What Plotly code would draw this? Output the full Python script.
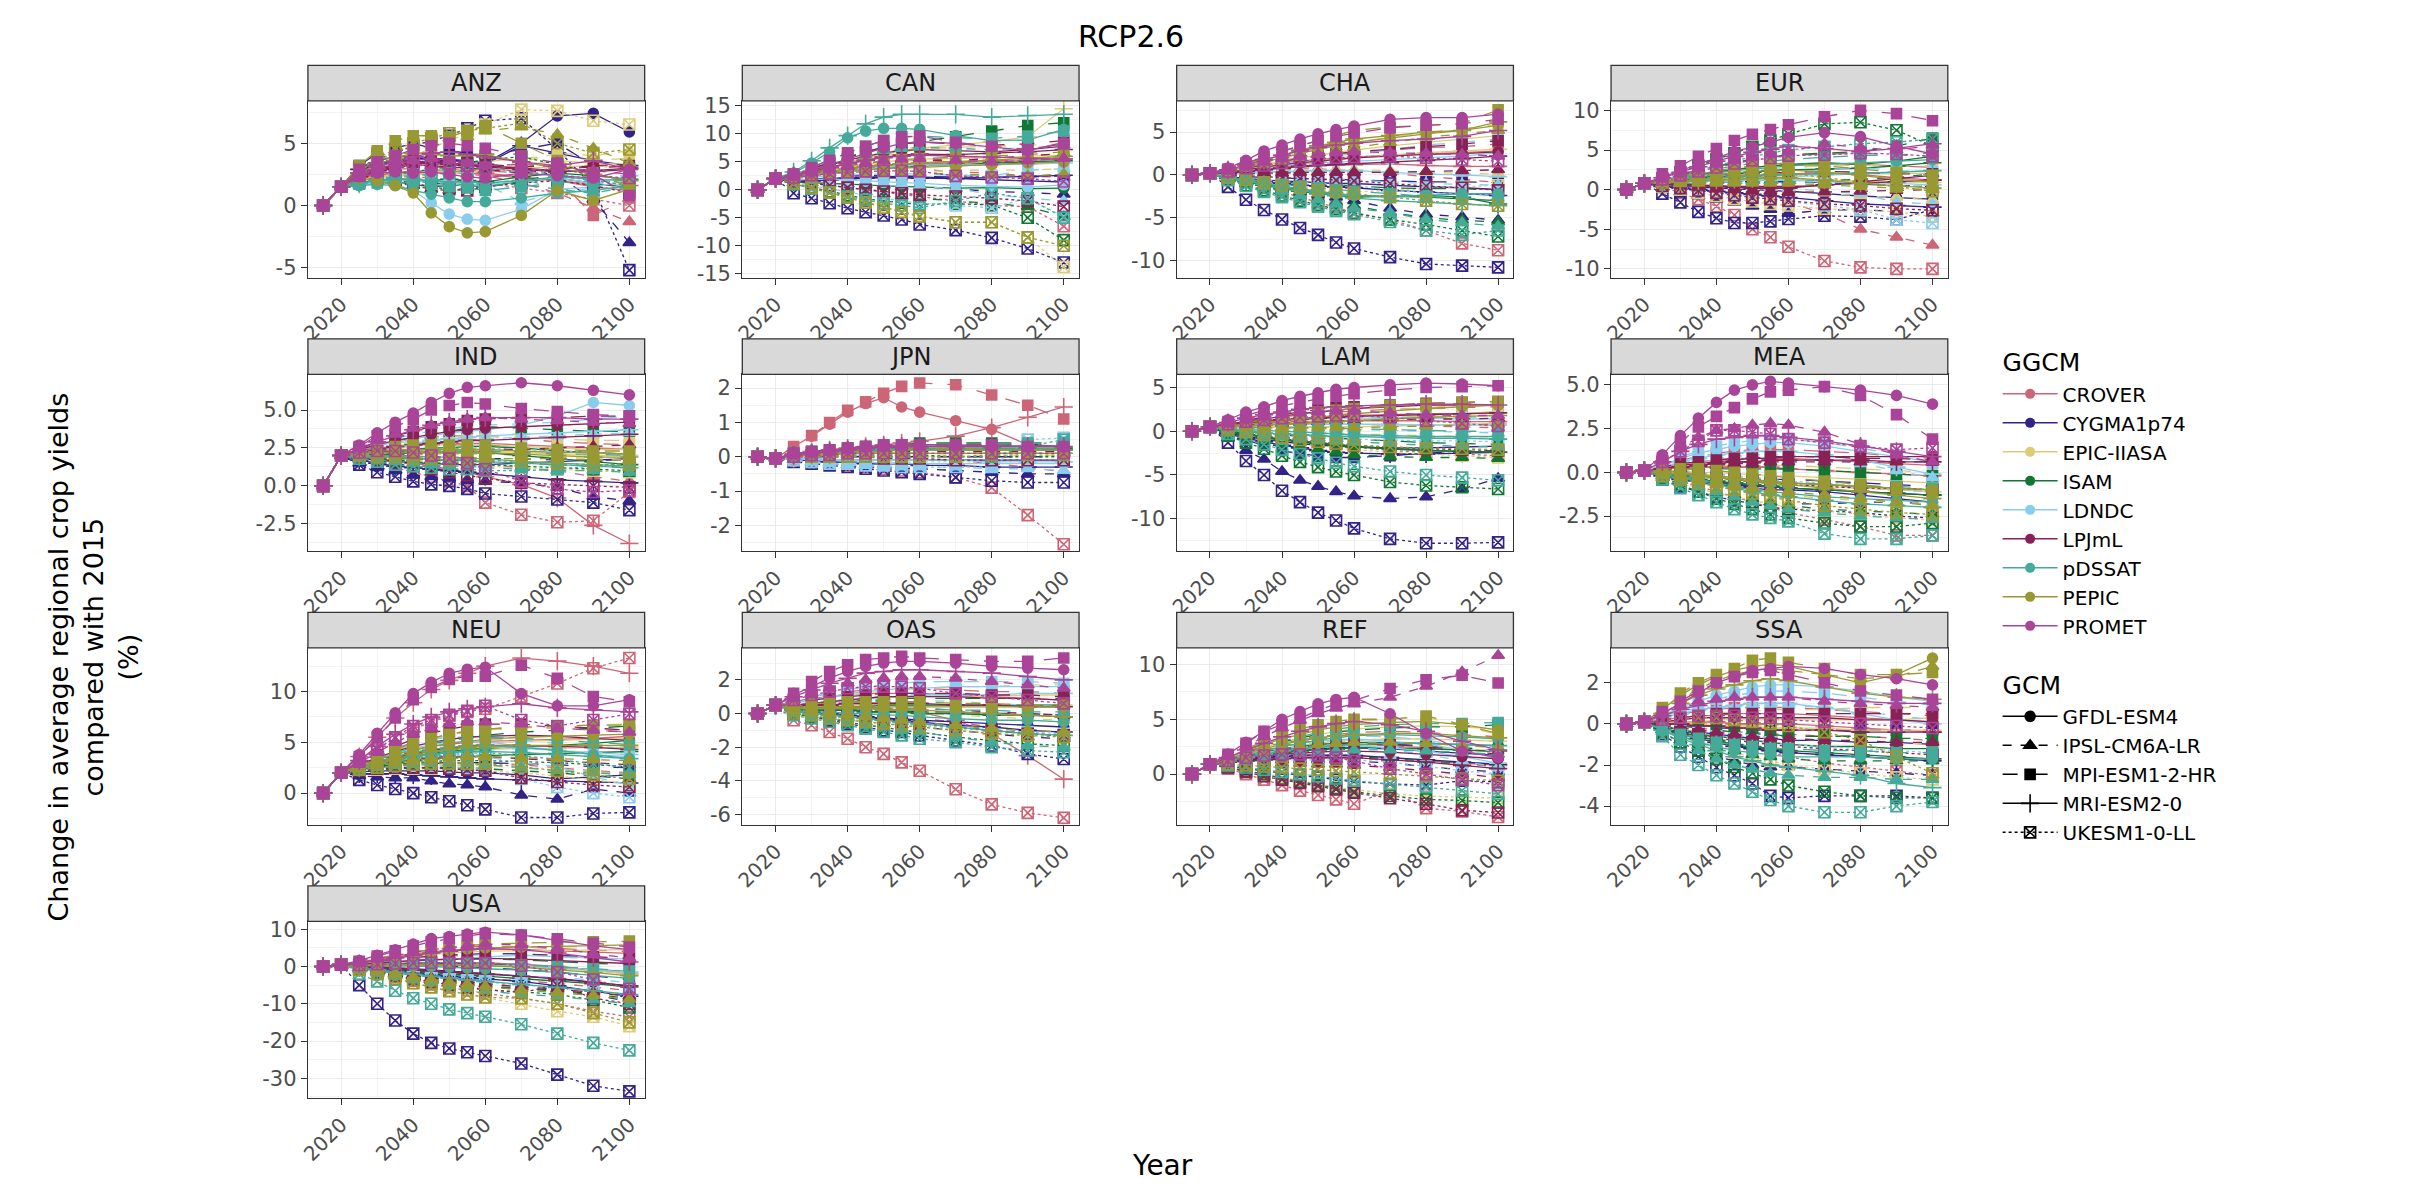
import plotly.graph_objects as go

YEARS = [2015, 2020, 2025, 2030, 2035, 2040, 2045, 2050, 2055, 2060, 2070, 2080, 2090, 2100]
GGCMS = ["CROVER", "CYGMA1p74", "EPIC-IIASA", "ISAM", "LDNDC", "LPJmL", "pDSSAT", "PEPIC", "PROMET"]
GCMS = ["GFDL-ESM4", "IPSL-CM6A-LR", "MPI-ESM1-2-HR", "MRI-ESM2-0", "UKESM1-0-LL"]
REGIONS = ["ANZ", "CAN", "CHA", "EUR", "IND", "JPN", "LAM", "MEA", "NEU", "OAS", "REF", "SSA", "USA"]

# values at 2015 and 2020 (shared by every model in a region)
START = {"ANZ": [0, 1.5], "CAN": [0, 2.0], "CHA": [0, 0.2], "EUR": [0, 0.8], "IND": [0, 2.0],
         "JPN": [0, -0.05], "LAM": [0, 0.5], "MEA": [0, 0.1], "NEU": [0, 2.0], "OAS": [0, 0.5],
         "REF": [0, 0.9], "SSA": [0, 0.1], "USA": [0, 0.5]}

# per GGCM: [GFDL-ESM4, IPSL-CM6A-LR, MPI-ESM1-2-HR, MRI-ESM2-0, UKESM1-0-LL], values 2025..2100
ANZ = {
 "CROVER": [[2.2,2.5,2.6,2.8,2.7,2.8,2.6,2.5,2.2,2.0,1.5,1.2],[2.0,2.3,2.5,2.4,2.6,2.7,2.5,2.4,1.8,1.0,-0.2,-1.3],[2.3,2.7,2.9,3.0,3.1,3.0,2.9,2.8,2.6,2.2,-0.8,0.6],[2.1,2.4,2.6,2.7,2.8,2.9,2.8,2.6,2.3,2.0,1.7,1.6],[1.9,2.2,2.3,2.3,2.2,2.0,1.9,1.8,1.4,1.0,0.5,0.0]],
 "CYGMA1p74": [[3.0,3.6,3.9,4.0,3.8,3.7,3.6,3.4,5.0,7.2,7.4,5.9],[2.8,3.3,3.5,3.6,3.4,3.3,3.2,3.1,3.0,2.4,0.5,-3.0],[3.2,4.2,4.6,5.0,4.6,4.4,4.2,4.0,4.5,5.0,3.2,3.0],[2.9,3.4,3.6,3.8,3.7,3.6,3.5,3.3,4.8,4.2,3.6,3.2],[3.0,3.7,4.2,4.8,5.2,5.6,6.2,6.8,7.0,4.5,1.5,-5.2]],
 "EPIC-IIASA": [[2.0,2.3,2.5,2.6,2.7,2.8,2.9,3.0,3.2,3.6,3.4,3.3],[1.8,2.1,2.3,2.4,2.5,2.6,2.8,3.0,3.5,4.2,4.0,4.4],[2.1,2.5,2.8,3.0,3.1,3.2,3.3,3.5,3.8,4.0,3.6,3.8],[1.9,2.2,2.4,2.5,2.6,2.6,2.7,2.8,3.0,3.1,3.2,3.0],[2.2,2.8,3.4,4.0,4.6,5.2,5.8,6.5,7.7,7.6,6.8,6.5]],
 "ISAM": [[1.8,2.0,1.9,1.7,1.5,1.6,1.7,1.6,1.9,2.2,1.8,1.4],[1.7,1.9,1.8,1.6,1.3,1.2,1.4,1.5,1.8,2.4,2.0,1.8],[1.9,2.1,2.0,1.9,1.8,1.7,1.6,1.5,2.0,2.5,2.2,2.0],[1.8,2.0,2.1,2.0,2.0,2.1,2.0,1.9,2.3,2.6,2.4,2.1],[1.8,2.2,2.4,2.7,2.9,3.1,3.4,3.7,3.9,3.3,2.6,1.9]],
 "LDNDC": [[1.6,1.8,1.7,1.2,0.2,-0.7,-1.1,-1.2,-0.3,1.3,1.5,2.0],[1.7,1.9,2.0,1.9,1.8,1.9,1.8,1.7,0.3,1.0,1.4,2.2],[1.8,2.0,2.1,2.2,2.0,2.0,1.9,1.8,2.1,1.4,0.9,1.9],[1.7,1.9,2.0,2.0,1.9,1.8,1.7,1.6,2.0,2.2,1.8,2.4],[1.9,2.2,2.4,2.6,2.8,3.0,3.1,3.2,2.8,2.5,2.2,1.5]],
 "LPJmL": [[2.4,2.9,3.2,3.5,3.5,3.4,3.3,3.2,3.0,2.8,2.7,2.9],[2.2,2.7,3.0,3.3,3.2,3.1,3.0,2.9,2.6,2.9,3.2,3.3],[2.5,3.0,3.4,3.7,3.6,3.5,3.4,3.3,3.1,3.2,3.0,3.2],[2.3,2.8,3.1,3.4,3.4,3.3,3.2,3.1,2.9,2.7,2.8,3.0],[2.0,2.2,2.0,1.8,1.5,1.3,1.2,1.5,1.8,2.0,1.6,1.0]],
 "pDSSAT": [[1.6,1.7,1.6,1.2,0.9,0.6,0.3,0.3,0.6,1.0,1.2,1.6],[1.8,2.0,2.1,2.0,1.8,1.7,1.7,1.6,1.7,1.3,1.0,1.5],[1.7,1.8,1.9,1.9,1.7,1.5,1.4,1.2,1.5,1.8,2.0,2.2],[1.8,2.0,2.1,2.1,2.0,1.9,1.9,1.8,2.0,2.3,2.1,2.0],[1.9,2.1,2.3,2.4,2.5,2.6,2.8,3.0,2.7,2.4,2.0,1.6]],
 "PEPIC": [[2.2,2.0,1.6,1.0,-0.6,-1.7,-2.2,-2.1,-0.8,1.2,0.4,1.3],[2.8,3.6,4.3,4.8,5.2,5.4,5.5,6.0,6.3,5.7,4.6,3.4],[3.2,4.4,5.2,5.6,5.6,5.5,6.0,6.4,5.0,3.6,2.6,1.5],[2.6,3.3,3.8,4.2,4.1,4.0,4.0,4.1,3.5,3.0,2.5,2.0],[2.9,3.8,4.5,5.0,5.4,5.8,6.0,6.2,6.6,5.0,4.2,4.5]],
 "PROMET": [[2.3,2.6,2.7,2.6,2.7,2.5,2.3,2.2,2.6,2.4,2.2,2.9],[2.5,3.0,3.3,3.6,3.8,3.6,3.4,3.2,3.3,3.1,2.8,2.5],[2.9,3.5,4.0,4.5,4.8,5.0,4.8,4.6,4.0,3.4,2.5,0.8],[2.6,3.1,3.5,3.9,4.2,4.3,4.1,3.9,3.5,3.2,3.6,2.9],[2.4,2.8,3.1,3.2,3.3,3.4,3.2,3.0,2.7,3.0,2.4,2.2]],
}
CAN = {
 "CROVER": [[2.5,3,3.5,4,4.3,4.5,4.6,4.5,4.3,4.5,4.6,4.8],[2.2,2.6,3,3.3,3.5,3.7,3.8,3.7,3.2,3,2.5,2.2],[2.6,3.2,3.8,4.3,4.8,5.2,5.4,5.3,5,5.2,5.4,5.8],[2.4,2.9,3.4,3.8,4.2,4.4,4.6,4.6,4.8,5,5.2,5.5],[1.5,1.2,0.8,0.4,0,-0.4,-0.8,-1.2,-2,-2.8,-3,-6.5]],
 "CYGMA1p74": [[1.5,1.8,2,2.2,2.3,2.4,2.4,2.3,2,1.8,1.6,1.4],[1.2,1.2,1.1,1,0.9,0.8,0.6,0.5,0.2,-0.3,-0.5,-0.8],[1.6,1.9,2.2,2.4,2.6,2.6,2.5,2.4,2.3,2.2,2.3,2.5],[1.4,1.6,1.8,2,2.1,2.2,2.2,2.1,2,2.2,2.4,2.6],[-0.6,-1.5,-2.4,-3.3,-4,-4.6,-5.3,-6.2,-7.2,-8.6,-10.5,-13]],
 "EPIC-IIASA": [[2.3,2.9,3.5,4,4.5,5,5.3,5.5,5.6,5.8,6,6.2],[2,2.3,2.6,2.8,3,3.1,3.2,3.2,3.4,3.6,3.5,3.8],[2.6,3.4,4.2,5,5.8,6.5,7,7.3,7.6,7.8,8,8.2],[2.5,3.2,4,4.8,5.6,6.3,7,7.5,8,8.6,9.5,14.5],[1.2,0.5,-0.3,-1.2,-2.2,-3,-3.8,-4.6,-5.8,-5.8,-8.5,-13.8]],
 "ISAM": [[1.4,1.3,1.2,1,0.9,0.7,0.6,0.5,0.3,0.4,0.2,0.3],[1.2,0.8,0.4,0,-0.4,-0.8,-1.2,-1.5,-2,-2.4,-3,-4.8],[2.8,3.8,4.8,5.8,6.8,7.6,8.2,8.6,9.5,10.5,11.5,12],[2.2,2.6,3,3.4,3.7,4,4.2,4.3,4.5,4.8,5,5.2],[1.1,0.4,-0.3,-1,-1.6,-2,-2.3,-2.6,-2.5,-2.7,-5,-9]],
 "LDNDC": [[1.8,1.9,1.9,1.8,1.6,1.4,1.3,1.2,0.8,0.6,0.5,0.9],[1.6,1.6,1.5,1.4,1.2,1,0.8,0.6,0.2,-0.8,-1.5,-2],[2,2.3,2.5,2.7,2.8,2.9,2.9,2.8,2.6,2.5,3.5,3.8],[2.2,2.6,3,3.4,3.8,4.1,4.3,4.4,4.4,4.5,4.6,4.8],[1.3,0.8,0.2,-0.4,-1,-1.5,-2,-2.4,-2.8,-3.2,-1.5,-4.8]],
 "LPJmL": [[2.6,3.5,4.4,5.3,6,6.6,7,7.2,7,6.8,7.2,7.8],[2.4,3,3.6,4.2,4.6,5,5.2,5.3,5.2,5.6,6,6.5],[2.8,3.8,4.8,5.8,6.8,7.6,8.2,8.5,8.2,8,8.2,8.8],[2.5,3.3,4,4.7,5.3,5.8,6.2,6.4,6.3,6.5,6.8,7.2],[1.5,1.2,0.8,0.4,0,-0.3,-0.6,-0.9,-1.2,-1.5,-2,-3]],
 "pDSSAT": [[3,4.8,6.8,9.3,10.5,11,11,10.8,9.7,8.8,8.9,10.8],[2.6,3.6,4.6,5.6,6.4,7,7.4,7.6,7.4,7.2,7.4,8],[2.8,4,5.3,6.6,7.8,8.8,9.4,9.6,9.3,9.2,9.6,10.5],[3.2,5.2,7.5,9.7,11.8,13,13.5,13.5,13.5,13,13.3,13.5],[1,0.2,-0.5,-1.2,-1.8,-2.4,-2.8,-3.2,-2,-0.6,-1.5,-5]],
 "PEPIC": [[2.2,2.6,3,3.3,3.6,3.8,3.9,4,4.2,4.5,4.8,5],[2,2.3,2.5,2.7,2.8,2.9,3,3,2.8,2.6,2.5,2.8],[2.5,3.1,3.7,4.2,4.7,5.1,5.4,5.6,5.8,6,6.3,6.8],[2.3,2.8,3.3,3.7,4.1,4.4,4.6,4.8,5,5.3,5.6,6],[1.2,0.4,-0.5,-1.4,-2.3,-3.2,-4,-4.8,-5.8,-5.8,-8.5,-10]],
 "PROMET": [[2.6,3.5,4.5,5.5,6.5,7.5,8.3,8.6,8.3,7.7,7,8.5],[2.4,3,3.6,4.2,4.8,5.2,5.5,5.6,5.3,5,5.2,5.6],[2.8,4,5.3,6.6,7.8,8.8,9.5,9.6,8.5,7.8,7.2,8.2],[2.5,3.2,4,4.7,5.3,5.8,6,6.2,6,5.8,5.6,5.5],[2.2,2.6,2.9,3.1,3.3,3.4,3.4,3.3,2.5,2.2,2,1.5]],
}
CHA = {
 "CROVER": [[0.5,0.8,1.1,1.4,1.6,1.8,2,2.1,2.3,2.5,2.6,2.8],[0.3,0.5,0.6,0.6,0.7,0.7,0.6,0.5,0.2,-0.2,-0.5,-0.9],[0.6,1,1.4,1.7,2,2.2,2.4,2.6,2.9,3.2,3.3,3.6],[0.4,0.6,0.8,0.9,1,1.1,1.2,1.2,1.3,1.1,1,1],[-0.3,-0.8,-1.4,-2,-2.6,-3.2,-3.8,-4.4,-5.2,-6.5,-8,-8.8]],
 "CYGMA1p74": [[-0.2,-0.4,-0.6,-0.7,-0.8,-0.9,-1,-1,-1.2,-1.4,-1.5,-1.7],[-0.5,-0.9,-1.3,-1.7,-2,-2.3,-2.6,-3,-3.9,-4.6,-4.9,-5.3],[-0.1,-0.2,-0.3,-0.4,-0.4,-0.5,-0.5,-0.6,-0.7,-0.8,-0.8,-0.9],[-0.3,-0.6,-0.8,-1,-1.2,-1.3,-1.4,-1.5,-1.8,-2,-2.2,-2.4],[-1.4,-2.9,-4.1,-5.2,-6.2,-7,-7.9,-8.6,-9.6,-10.4,-10.6,-10.8]],
 "EPIC-IIASA": [[0.4,0.8,1.2,1.6,2,2.3,2.6,2.9,3.4,3.8,4.2,4.6],[0.2,0.3,0.4,0.5,0.6,0.6,0.6,0.6,0.5,0.3,0.2,0.1],[0.5,1,1.5,2,2.5,3,3.4,3.8,4.4,5,5.4,5.9],[0.3,0.6,0.9,1.2,1.4,1.6,1.8,2,2.3,2.6,2.8,3],[-0.2,-0.5,-0.8,-1.1,-1.4,-1.6,-1.8,-2,-1.8,-1.6,-1.4,-1.2]],
 "ISAM": [[-0.3,-0.7,-1.1,-1.4,-1.7,-2,-2.2,-2.4,-2.5,-2.6,-2.8,-3],[-0.5,-1,-1.5,-2,-2.4,-2.8,-3.2,-3.6,-4.4,-5,-5.3,-5.5],[-0.2,-0.4,-0.6,-0.8,-1,-1.1,-1.2,-1.3,-1.5,-1.6,-1.6,-1.8],[-0.4,-0.8,-1.2,-1.6,-1.9,-2.2,-2.4,-2.6,-2.5,-2.4,-2.6,-3.4],[-0.6,-1.2,-1.8,-2.4,-3,-3.5,-4,-4.5,-5.2,-5.8,-6.5,-7.2]],
 "LDNDC": [[0.2,0.4,0.7,1,1.2,1.4,1.5,1.6,1.8,2,2.2,2.6],[0,-0.1,-0.2,-0.3,-0.4,-0.5,-0.5,-0.6,-0.8,-1,-1.1,-1.2],[0.3,0.6,0.9,1.3,1.6,1.9,2.2,2.5,3,3.5,3.8,4.2],[0.1,0.2,0.3,0.4,0.4,0.5,0.5,0.5,0.3,0.1,0,-0.2],[-0.2,-0.4,-0.6,-0.8,-0.9,-1,-1.1,-1.2,-1.8,-2.1,-2.2,-2.3]],
 "LPJmL": [[0.3,0.6,0.9,1.2,1.4,1.6,1.8,2,2.2,2.4,2.5,2.7],[0.1,0.1,0.2,0.2,0.3,0.3,0.3,0.3,0.3,0.4,0.5,0.6],[0.4,0.8,1.2,1.6,1.9,2.2,2.5,2.7,3,3.3,3.6,4],[0.2,0.4,0.6,0.8,1,1.1,1.2,1.3,1.5,1.7,1.9,2.2],[0,-0.1,-0.2,-0.3,-0.4,-0.5,-0.6,-0.7,-1,-1.3,-1.5,-1.8]],
 "pDSSAT": [[-0.3,-0.6,-1,-1.3,-1.6,-1.9,-2.2,-2.4,-2.6,-2.4,-2.2,-2.2],[-0.4,-0.9,-1.4,-1.9,-2.4,-2.9,-3.4,-3.9,-4.4,-5.2,-5.6,-6],[-0.2,-0.5,-0.8,-1.1,-1.3,-1.5,-1.7,-1.9,-2.2,-2.5,-2.7,-2.9],[-0.3,-0.7,-1.1,-1.5,-1.8,-2.1,-2.4,-2.7,-3,-3.2,-3.4,-3.6],[-0.6,-1.3,-2,-2.6,-3.2,-3.7,-4.2,-4.6,-5.5,-6.5,-7,-6.5]],
 "PEPIC": [[0.5,1,1.5,2,2.5,3,3.4,3.8,4.3,4.8,5.2,5.8],[0.4,0.8,1.2,1.6,2,2.4,2.8,3.2,3.8,4.4,4.8,5.2],[0.6,1.3,2,2.7,3.4,4,4.6,5.2,5.6,5.8,6,7.6],[0.5,1.1,1.7,2.3,2.9,3.4,3.8,4.2,4.6,5,5.2,6.2],[-0.3,-0.6,-0.9,-1.2,-1.5,-1.8,-2,-2.2,-2.6,-3,-3.4,-3.6]],
 "PROMET": [[0.8,1.7,2.8,3.5,4.2,4.8,5.3,5.7,6.5,6.7,6.7,7.1],[0.5,1,1.5,1.9,2.2,2.4,2.6,2.7,2.6,2.5,2.4,2.2],[0.7,1.4,2.1,2.8,3.4,4,4.5,4.9,5.5,5.8,6,6.5],[0.6,1.2,1.8,2.3,2.8,3.2,3.5,3.7,4,4.2,4.5,5.2],[0.4,0.8,1.1,1.4,1.6,1.8,2,2.1,2.2,2,1.8,1.6]],
}
EUR = {
 "CROVER": [[1.2,1.6,2,2.3,2.6,2.8,3,3.1,3.3,3.2,3,2.8],[0.8,0.6,0.3,0,-0.4,-0.8,-1.2,-1.6,-3,-5,-6,-7],[1.4,2,2.5,3,3.4,3.8,4.1,4.3,4.5,4.6,4.4,4.2],[1,1.2,1.4,1.6,1.7,1.8,1.9,2,2.1,1.9,1.5,1.2],[0.3,-0.4,-1.2,-2.1,-3.2,-5,-6,-7.2,-9,-9.8,-10,-10]],
 "CYGMA1p74": [[0.5,0.4,0.3,0.2,0.1,0,-0.1,-0.2,-0.5,-0.8,-1,-1.2],[0.2,-0.3,-0.8,-1.2,-1.6,-2.1,-2.5,-3,-2.6,-2.5,-2.8,-3],[0.6,0.8,0.9,1,1,1,1,1,0.9,0.7,0.5,0.4],[0.4,0.2,0,-0.2,-0.4,-0.6,-0.8,-1,-1.4,-1.8,-2,-2.2],[-0.5,-1.6,-2.8,-3.6,-4.2,-4.2,-4,-3.7,-3.3,-3.4,-3.8,-2.5]],
 "EPIC-IIASA": [[0.8,1,1.2,1.4,1.5,1.6,1.7,1.8,1.9,2,2,2.1],[0.6,0.5,0.4,0.3,0.2,0.1,0,-0.1,-0.4,-0.8,-1,-1.3],[1,1.3,1.6,1.9,2.2,2.4,2.6,2.8,3,3.1,3,3],[0.8,0.9,1,1.1,1.2,1.3,1.3,1.3,1.2,1.1,1,0.9],[0.4,0,-0.4,-0.8,-1.2,-1.5,-1.8,-2,-2.4,-2.6,-2.8,-3.4]],
 "ISAM": [[1,1.4,1.8,2.2,2.5,2.8,3,3.2,3.4,3.2,3.6,4.2],[0.7,0.8,0.9,1,1,1.1,1.1,1.1,1.2,1.3,1.5,2],[1.2,1.8,2.4,2.9,3.4,3.8,4.1,4.4,4.6,4.8,5.5,6.5],[0.9,1.2,1.5,1.8,2,2.2,2.4,2.5,2.6,2.7,3,3.4],[1.4,2.2,3,3.8,4.6,5.4,6.2,7,8.3,8.5,7.5,5.5]],
 "LDNDC": [[0.9,1,1.1,1.2,1.3,1.4,1.5,1.6,1.8,2,2.2,2.4],[0.7,0.6,0.5,0.4,0.4,0.3,0.3,0.2,-0.2,-0.5,-1.6,-1.8],[1.1,1.3,1.5,1.7,1.9,2,2.1,2.2,2.5,2.8,2.4,2.3],[0.8,0.9,1,1.1,1.1,1.2,1.2,1.2,1,0.9,0.8,0.6],[0.6,0.3,0,-0.3,-0.6,-0.9,-1.2,-1.5,-2,-2.5,-3.8,-4.2]],
 "LPJmL": [[0.8,0.7,0.6,0.5,0.4,0.4,0.4,0.4,0.5,1,1.4,1.8],[0.6,0.5,0.3,0.1,0,-0.1,-0.2,-0.3,-0.3,-0.2,-0.1,0],[1,1.2,1.4,1.6,1.8,2,2.1,2.2,2.3,2.2,2,2],[0.7,0.6,0.5,0.4,0.3,0.2,0.2,0.2,0.6,0.8,1,1.2],[0.5,0.2,-0.1,-0.4,-0.7,-1,-1.2,-1.4,-1.8,-2,-2.4,-2.6]],
 "pDSSAT": [[1,1.4,1.8,2.1,2.4,2.6,2.8,3,3.2,3.4,3.6,3.8],[0.8,0.9,1,1,1,1,1,1,0.8,0.6,0.5,0.4],[1.2,1.7,2.2,2.6,3,3.3,3.6,3.8,4.1,4.3,4.4,4.6],[0.9,1.1,1.3,1.5,1.6,1.7,1.8,1.9,2,2.1,2.2,2.4],[1.2,1.8,2.4,3,3.6,4.2,4.6,5,5.4,5.8,6,6.4]],
 "PEPIC": [[1,1.3,1.6,1.9,2.1,2.3,2.4,2.5,2.2,1.8,1.3,1],[0.8,0.8,0.8,0.8,0.8,0.8,0.8,0.8,0.6,0.4,0.2,0],[1.2,1.6,2,2.4,2.7,3,3.2,3.4,3,2.6,2.2,1.8],[0.9,1,1.1,1.2,1.3,1.4,1.5,1.5,1.2,0.8,0.5,0.2],[0.9,1.1,1.3,1.5,1.7,1.9,2,2.1,1.5,1,0.4,-0.2]],
 "PROMET": [[1.6,2.4,3.2,4,4.8,5.4,6,6.6,7.2,6.7,5.5,4.5],[1.4,2,2.6,3.2,3.7,4.1,4.5,4.8,5.8,5.3,5,5.6],[2,3,4.2,5.2,6.2,7,7.6,8.2,9.2,10,9.6,8.7],[1.5,2.2,2.9,3.6,4.2,4.7,5.1,5.5,5.2,4.8,5.2,5.8],[1.3,1.8,2.3,2.8,3.3,3.7,4,4.3,4.4,4.6,4.5,4.2]],
}
IND = {
 "CROVER": [[2.3,2.5,2.6,2.7,2.8,2.8,2.8,2.8,2.7,2.6,2.5,2.4],[2,2,1.9,1.8,1.7,1.6,1.5,1.4,1.2,1,0.6,0.3],[2.4,2.7,2.9,3.1,3.2,3.3,3.3,3.3,3.1,2.9,2.8,2.7],[1.9,1.8,1.7,1.5,1.3,1.1,0.9,0.6,0.1,-0.8,-2.6,-3.8],[1.8,1.5,1.2,0.9,0.6,0.3,0,-1.1,-1.9,-2.4,-2.3,-0.4]],
 "CYGMA1p74": [[1.8,1.7,1.6,1.5,1.5,1.4,1.4,1.4,1.5,1.6,1.7,1.8],[1.5,1.2,1,0.7,0.6,0.5,0.4,0.3,0.2,-0.1,-0.7,-1],[1.9,1.9,1.9,1.9,1.9,1.9,1.8,1.8,1.8,1.7,1.7,1.7],[1.7,1.5,1.3,1.2,1.1,1,0.9,0.8,0.6,0.4,0.3,0.2],[1.4,0.9,0.6,0.3,0.1,0,-0.2,-0.5,-0.7,-0.9,-1.1,-1.6]],
 "EPIC-IIASA": [[2.2,2.4,2.5,2.6,2.7,2.7,2.7,2.7,2.6,2.5,2.4,2.4],[2,2.1,2.1,2.1,2.1,2.1,2.1,2.1,2,1.9,1.8,1.7],[2.3,2.6,2.8,3,3.1,3.2,3.3,3.3,3.2,3.1,3,3],[2.1,2.2,2.3,2.3,2.3,2.3,2.3,2.3,2.2,2.1,2,2],[2,1.9,1.8,1.7,1.6,1.5,1.4,1.3,1.2,1.1,1,0.9]],
 "ISAM": [[2.1,2.2,2.3,2.4,2.5,2.5,2.6,2.6,2.5,2.3,2.2,2.1],[1.9,1.9,1.8,1.8,1.7,1.7,1.6,1.6,1.5,1.4,1.3,1.2],[2.3,2.6,2.9,3.2,3.4,3.6,3.8,3.9,3.8,3.7,3.6,3.6],[2,2.1,2.1,2.2,2.2,2.2,2.2,2.2,2,1.8,1.6,1.4],[1.9,1.8,1.7,1.6,1.5,1.5,1.4,1.4,1.3,1.2,1.1,1]],
 "LDNDC": [[2.3,2.6,2.9,3.1,3.3,3.5,3.6,3.7,4,4.6,5.5,5.3],[2.1,2.3,2.5,2.7,2.8,2.9,3,3.1,3.2,3.3,3.4,3.5],[2.4,2.8,3.1,3.4,3.6,3.8,3.9,4,4.1,4.2,4.4,4.6],[2.2,2.4,2.6,2.8,3,3.1,3.2,3.3,3.4,3.5,3.6,3.7],[2,2.1,2.2,2.3,2.4,2.4,2.5,2.5,2.4,2.3,2.2,2.1]],
 "LPJmL": [[2.4,2.7,3,3.2,3.4,3.6,3.7,3.8,3.9,4,4.1,4.2],[2.1,2.2,2.3,2.4,2.4,2.4,2.4,2.4,2.4,2.5,2.6,2.7],[2.5,2.9,3.3,3.6,3.9,4.1,4.3,4.4,4.5,4.5,4.6,4.6],[2.2,2.4,2.6,2.7,2.8,2.9,3,3,3.1,3.2,3.3,3.4],[1.9,1.7,1.5,1.3,1.1,0.9,0.7,0.5,0.2,0.1,0,-0.1]],
 "pDSSAT": [[2,2,2,2,1.9,1.9,1.8,1.8,1.6,1.5,1.4,1.3],[1.8,1.7,1.6,1.5,1.4,1.3,1.3,1.2,1.1,1,1,0.9],[2.1,2.2,2.3,2.3,2.3,2.3,2.3,2.3,2.2,2.1,2.1,2],[1.9,1.9,1.9,1.8,1.8,1.7,1.7,1.6,1.5,1.4,1.3,1.2],[1.8,1.6,1.4,1.3,1.2,1.1,1.1,1,1,1.1,1.3,1.5]],
 "PEPIC": [[2.2,2.3,2.4,2.4,2.4,2.4,2.4,2.4,2.3,2.2,2.2,2.1],[2,2,2,1.9,1.9,1.9,1.9,1.8,1.8,1.8,1.7,1.7],[2.3,2.5,2.6,2.7,2.7,2.7,2.7,2.7,2.5,2.4,2.3,2.3],[2.1,2.2,2.2,2.2,2.2,2.2,2.2,2.2,2.1,2,1.9,1.9],[2,1.9,1.9,1.8,1.8,1.7,1.7,1.7,1.6,1.5,1.4,1.4]],
 "PROMET": [[2.7,3.5,4.2,4.8,5.5,6.1,6.5,6.6,6.8,6.6,6.3,6],[2.5,3,3.4,3.8,4,4.2,4.4,4.5,4.4,4.3,4.2,4.1],[2.6,3.3,3.9,4.4,5,5.3,5.5,5.4,5.1,4.9,4.7,4.6],[2.4,2.9,3.3,3.7,4,4.2,4.4,4.5,4.5,4.5,4.4,4.4],[2.2,2.3,2.3,2.2,2,1.8,1.5,1.1,0.3,-0.2,-0.4,-0.3]],
}
JPN = {
 "CROVER": [[0.3,0.6,0.95,1.3,1.55,1.72,1.45,1.3,1.05,0.8,0.35,0.3],[0.05,0.05,0.05,0.05,0.05,0,0,-0.05,-0.1,-0.2,-0.3,-0.45],[0.3,0.62,1,1.35,1.6,1.85,2.05,2.15,2.1,1.8,1.5,1.1],[0.1,0.15,0.2,0.25,0.3,0.35,0.4,0.45,0.6,0.85,1.15,1.45],[-0.1,-0.15,-0.2,-0.25,-0.3,-0.35,-0.4,-0.45,-0.6,-0.9,-1.7,-2.55]],
 "CYGMA1p74": [[-0.05,-0.05,-0.1,-0.1,-0.1,-0.1,-0.1,-0.1,-0.1,-0.1,-0.1,-0.1],[-0.1,-0.15,-0.2,-0.25,-0.3,-0.3,-0.35,-0.35,-0.4,-0.45,-0.5,-0.5],[0,0,0,0,0,0,0,0,0,0,0,0],[-0.05,-0.1,-0.15,-0.15,-0.2,-0.2,-0.2,-0.25,-0.25,-0.3,-0.3,-0.3],[-0.15,-0.2,-0.25,-0.3,-0.35,-0.4,-0.45,-0.5,-0.6,-0.7,-0.75,-0.75]],
 "EPIC-IIASA": [[0.05,0.1,0.1,0.15,0.15,0.2,0.2,0.2,0.2,0.2,0.2,0.2],[0,0,0,0.05,0.05,0.05,0.05,0.05,0.05,0.05,0.05,0.05],[0.05,0.1,0.15,0.2,0.2,0.25,0.25,0.25,0.25,0.25,0.2,0.2],[0,0.05,0.05,0.1,0.1,0.1,0.1,0.1,0.1,0.1,0.1,0.1],[-0.05,-0.05,-0.1,-0.1,-0.1,-0.15,-0.15,-0.15,-0.15,-0.15,-0.1,-0.1]],
 "ISAM": [[0.05,0.1,0.15,0.2,0.25,0.3,0.3,0.3,0.3,0.3,0.3,0.3],[0.05,0.1,0.1,0.15,0.2,0.2,0.2,0.2,0.2,0.2,0.2,0.2],[0.1,0.15,0.2,0.25,0.3,0.35,0.35,0.4,0.4,0.4,0.4,0.4],[0.05,0.1,0.15,0.2,0.2,0.25,0.25,0.25,0.25,0.25,0.25,0.25],[0,0,0.05,0.05,0.05,0.05,0.05,0.05,0,0,0,0]],
 "LDNDC": [[-0.05,-0.1,-0.1,-0.15,-0.15,-0.2,-0.2,-0.2,-0.2,-0.2,-0.2,-0.2],[-0.1,-0.15,-0.2,-0.25,-0.25,-0.3,-0.3,-0.3,-0.3,-0.35,-0.35,-0.4],[0,0,0.05,0.05,0.05,0.05,0.1,0.1,0.1,0.1,0.1,0.15],[-0.05,-0.05,-0.1,-0.1,-0.1,-0.1,-0.1,-0.1,-0.1,-0.15,-0.15,-0.15],[-0.1,-0.15,-0.2,-0.2,-0.25,-0.25,-0.3,-0.3,-0.3,-0.3,0.5,0.55]],
 "LPJmL": [[0.05,0.1,0.15,0.2,0.25,0.25,0.3,0.3,0.3,0.3,0.3,0.3],[0,0.05,0.1,0.1,0.15,0.15,0.15,0.15,0.15,0.15,0.15,0.15],[0.1,0.15,0.2,0.25,0.3,0.3,0.35,0.35,0.35,0.35,0.35,0.35],[0.05,0.1,0.1,0.15,0.2,0.2,0.2,0.2,0.2,0.2,0.2,0.2],[0,0,0,0,0,-0.05,-0.05,-0.05,-0.1,-0.1,-0.1,-0.1]],
 "pDSSAT": [[0.05,0.1,0.15,0.2,0.2,0.25,0.25,0.25,0.25,0.25,0.25,0.25],[0,0.05,0.05,0.1,0.1,0.1,0.1,0.1,0.1,0.1,0.1,0.1],[0.1,0.15,0.2,0.25,0.25,0.3,0.3,0.3,0.35,0.35,0.4,0.4],[0.05,0.1,0.1,0.15,0.15,0.2,0.2,0.2,0.2,0.2,0.2,0.2],[0,0,0,0,0,0,0,0,0,0,0.3,0.5]],
 "PEPIC": [[0.05,0.1,0.1,0.15,0.15,0.15,0.2,0.2,0.2,0.2,0.2,0.2],[0,0.05,0.05,0.05,0.05,0.05,0.1,0.1,0.1,0.1,0.1,0.1],[0.05,0.1,0.15,0.2,0.2,0.2,0.25,0.25,0.25,0.2,0.2,0.2],[0,0.05,0.05,0.1,0.1,0.1,0.1,0.1,0.1,0.1,0.1,0.1],[0,0,0,0,0,0,0,0,0,0.05,0.05,0.05]],
 "PROMET": [[0.1,0.15,0.2,0.25,0.3,0.3,0.35,0.35,0.35,0.3,0.3,0.3],[0.05,0.1,0.15,0.2,0.25,0.25,0.3,0.3,0.3,0.3,0.3,0.3],[0.1,0.15,0.2,0.25,0.3,0.35,0.35,0.35,0.35,0.35,0.3,0.3],[0.05,0.1,0.15,0.2,0.25,0.3,0.3,0.3,0.3,0.3,0.3,0.3],[0,0.05,0.05,0.1,0.1,0.1,0.1,0.1,0.1,0.1,0.1,0.1]],
}
LAM = {
 "CROVER": [[0.8,1,1.2,1.4,1.5,1.6,1.7,1.8,1.9,2,2,2.1],[0.6,0.7,0.7,0.8,0.8,0.8,0.8,0.8,0.7,0.6,0.5,0.4],[0.9,1.2,1.5,1.7,1.9,2.1,2.2,2.3,2.5,2.6,2.7,2.8],[0.7,0.8,0.9,1,1.1,1.1,1.2,1.2,1.2,1.2,1.1,1.1],[0.3,0,-0.3,-0.6,-0.9,-1.2,-1.5,-1.8,-2.2,-2.4,-2.6,-2.8]],
 "CYGMA1p74": [[-0.2,-0.6,-0.9,-1.2,-1.4,-1.6,-1.7,-1.8,-1.9,-1.9,-1.8,-1.7],[-0.8,-2.2,-3.2,-4.6,-5.6,-6.3,-6.9,-7.4,-7.7,-7.5,-6.6,-5.4],[-0.4,-1,-1.6,-2.2,-2.6,-2.8,-3,-3,-2.8,-2.5,-2.3,-2.2],[-0.3,-0.8,-1.2,-1.6,-1.9,-2.2,-2.4,-2.5,-2.6,-2.6,-2.5,-2.4],[-1.3,-3.4,-5,-6.8,-8.1,-9.3,-10.2,-11.1,-12.3,-12.8,-12.8,-12.7]],
 "EPIC-IIASA": [[0.6,0.7,0.8,0.9,1,1.1,1.2,1.3,1.5,1.8,2,2.3],[0.4,0.3,0.2,0.1,0,-0.1,-0.2,-0.3,-0.4,-0.5,-0.6,-0.7],[0.7,0.9,1.1,1.3,1.5,1.7,1.9,2.1,2.4,2.7,3,3.2],[0.5,0.5,0.5,0.5,0.5,0.5,0.5,0.5,0.6,0.7,0.8,0.9],[0.1,-0.3,-0.6,-1,-1.3,-1.6,-1.9,-2.1,-2.4,-2.6,-2.8,-3]],
 "ISAM": [[0,-0.3,-0.6,-0.9,-1.1,-1.3,-1.5,-1.7,-2,-2.2,-2.3,-2.4],[-0.2,-0.6,-1,-1.4,-1.8,-2.1,-2.4,-2.7,-2.9,-3,-3,-3.1],[0.1,0,-0.2,-0.4,-0.6,-0.7,-0.8,-0.9,-1.1,-1.3,-1.4,-1.5],[-0.1,-0.4,-0.7,-1,-1.2,-1.4,-1.6,-1.8,-2,-2.2,-2.3,-2.4],[-0.5,-1.3,-2,-2.8,-3.5,-4.1,-4.6,-5,-5.8,-6.2,-6.4,-6.6]],
 "LDNDC": [[0.6,0.8,1,1.2,1.3,1.4,1.5,1.5,1.5,1.5,1.4,1.4],[0.4,0.4,0.4,0.4,0.3,0.3,0.2,0.2,0.1,0,-0.1,-0.2],[0.7,0.9,1.1,1.2,1.3,1.4,1.5,1.5,1.6,1.6,1.6,1.6],[0.5,0.6,0.7,0.8,0.8,0.8,0.8,0.8,0.8,0.7,0.7,0.7],[0.2,0,-0.2,-0.4,-0.6,-0.7,-0.8,-0.9,-1,-1.1,-1.1,-1.2]],
 "LPJmL": [[0.8,1.1,1.4,1.7,2,2.2,2.4,2.6,2.8,3,3,3],[0.6,0.7,0.8,0.9,1,1.1,1.2,1.2,1.3,1.4,1.4,1.5],[0.9,1.3,1.6,1.9,2.2,2.5,2.7,2.8,3,3.2,3.3,3.4],[0.7,0.9,1.1,1.3,1.4,1.5,1.6,1.7,1.8,1.9,2,2.1],[0.2,-0.1,-0.4,-0.7,-1,-1.2,-1.4,-1.6,-1.8,-2,-2.1,-2.2]],
 "pDSSAT": [[0.3,0.2,0.1,0,-0.1,-0.2,-0.3,-0.4,-0.5,-0.6,-0.6,-0.6],[0.1,-0.2,-0.4,-0.6,-0.8,-1,-1.1,-1.2,-1.4,-1.6,-1.7,-1.8],[0.4,0.4,0.4,0.4,0.4,0.4,0.3,0.3,0.2,0.1,0,0],[0.2,0,-0.2,-0.3,-0.4,-0.5,-0.6,-0.6,-0.7,-0.8,-0.8,-0.9],[-0.3,-0.9,-1.5,-2.1,-2.6,-3.1,-3.6,-4,-4.6,-5,-5.3,-5.6]],
 "PEPIC": [[0.6,0.8,1,1.2,1.4,1.6,1.8,2,2.3,2.6,2.8,3],[0.4,0.4,0.4,0.4,0.4,0.4,0.4,0.4,0.5,0.6,0.7,0.8],[0.7,1,1.3,1.6,1.9,2.2,2.4,2.6,2.9,3.1,3.3,3.4],[0.5,0.6,0.7,0.8,0.9,1,1.1,1.2,1.4,1.6,1.7,1.8],[0.2,-0.1,-0.4,-0.7,-1,-1.2,-1.4,-1.6,-1.8,-1.9,-2,-2.1]],
 "PROMET": [[1.3,2.2,2.8,3.5,4,4.4,4.8,5,5.3,5.5,5.4,5.2],[0.9,1.3,1.6,1.9,2.1,2.2,2.3,2.3,2.1,1.9,1.8,1.8],[1.1,1.8,2.4,2.9,3.3,3.7,4,4.3,4.7,5,5.1,5.2],[1,1.5,1.9,2.2,2.5,2.7,2.8,2.9,3,3.1,3.1,3],[0.8,1.1,1.3,1.5,1.6,1.7,1.8,1.8,1.6,1.2,0.9,0.6]],
}
MEA = {
 "CROVER": [[0.3,0.5,0.6,0.7,0.8,0.8,0.8,0.8,0.7,0.6,0.5,0.4],[0.1,0.1,0,-0.1,-0.2,-0.3,-0.4,-0.5,-0.7,-0.9,-1,-1.1],[0.4,0.7,0.9,1.1,1.2,1.3,1.3,1.3,1.2,1.1,0.9,0.8],[0.2,0.3,0.3,0.3,0.3,0.3,0.3,0.2,0.1,0,-0.1,-0.2],[-0.2,-0.5,-0.8,-1.1,-1.4,-1.7,-2,-2.3,-2.7,-3.1,-3.6,-3.6]],
 "CYGMA1p74": [[-0.2,-0.4,-0.6,-0.7,-0.8,-0.9,-1,-1,-1.1,-1.3,-1.5,-1.7],[-0.3,-0.6,-0.9,-1.2,-1.4,-1.6,-1.7,-1.8,-1.8,-1.7,-1.7,-1.8],[-0.1,-0.2,-0.3,-0.3,-0.4,-0.4,-0.4,-0.4,-0.5,-0.6,-0.7,-0.8],[-0.2,-0.4,-0.5,-0.6,-0.7,-0.8,-0.8,-0.9,-1,-1.1,-1.2,-1.3],[-0.4,-0.8,-1.1,-1.4,-1.6,-1.8,-2,-2.1,-2.2,-2.3,-2.5,-2.6]],
 "EPIC-IIASA": [[0.1,0.1,0,0,-0.1,-0.1,-0.2,-0.2,-0.3,-0.4,-0.5,-0.6],[-0.1,-0.3,-0.5,-0.7,-0.9,-1.1,-1.2,-1.3,-1.5,-1.6,-1.7,-1.8],[0.2,0.3,0.4,0.4,0.4,0.4,0.4,0.4,0.3,0.2,0.1,0],[0,-0.1,-0.2,-0.3,-0.4,-0.5,-0.6,-0.7,-0.8,-0.9,-1,-1.1],[-0.3,-0.6,-0.9,-1.2,-1.4,-1.6,-1.8,-2,-2.2,-2.4,-2.6,-2.7]],
 "ISAM": [[0,-0.1,-0.2,-0.3,-0.4,-0.5,-0.6,-0.6,-0.7,-0.8,-0.9,-1],[-0.2,-0.5,-0.8,-1.1,-1.3,-1.5,-1.7,-1.9,-2.1,-2.2,-2.3,-2.4],[0.1,0.2,0.2,0.2,0.2,0.2,0.2,0.2,0.1,0,-0.1,-0.2],[-0.1,-0.2,-0.4,-0.5,-0.6,-0.7,-0.8,-0.9,-1,-1.1,-1.2,-1.3],[-0.3,-0.7,-1.1,-1.5,-1.8,-2.1,-2.4,-2.6,-2.9,-3.1,-3.1,-2.9]],
 "LDNDC": [[0.4,0.8,1.1,1.3,1.5,1.6,1.7,1.7,1.5,1.2,0.9,0.6],[0.2,0.4,0.6,0.8,0.9,1,1,1,0.8,0.5,0.1,-0.3],[0.5,0.9,1.2,1.5,1.7,1.8,1.9,1.9,1.7,1.4,1,0.5],[0.3,0.6,0.8,1,1.1,1.2,1.2,1.2,1,0.7,0.3,-0.1],[0.1,0.1,0,-0.1,-0.2,-0.3,-0.4,-0.5,-0.6,-0.8,-1,-1.1]],
 "LPJmL": [[0.2,0.4,0.5,0.6,0.7,0.8,0.8,0.9,0.9,0.9,0.9,0.9],[0.1,0.2,0.3,0.4,0.5,0.5,0.6,0.6,0.6,0.6,0.6,0.6],[0.3,0.5,0.6,0.7,0.8,0.8,0.9,0.9,0.9,0.8,0.8,0.7],[0.2,0.3,0.4,0.5,0.6,0.6,0.7,0.7,0.7,0.7,0.6,0.6],[0,-0.1,-0.2,-0.3,-0.4,-0.5,-0.6,-0.7,-0.8,-0.9,-0.9,-1]],
 "pDSSAT": [[0,-0.2,-0.4,-0.6,-0.8,-1,-1.1,-1.2,-1.4,-1.5,-1.6,-1.7],[-0.2,-0.5,-0.8,-1.1,-1.4,-1.7,-1.9,-2.1,-2.3,-2.5,-2.6,-2.7],[0.1,0,-0.1,-0.2,-0.3,-0.4,-0.5,-0.6,-0.7,-0.8,-0.8,-0.9],[-0.1,-0.3,-0.5,-0.7,-0.9,-1.1,-1.3,-1.4,-1.6,-1.8,-1.9,-2],[-0.4,-0.9,-1.3,-1.7,-2.1,-2.4,-2.6,-2.8,-3.5,-3.8,-3.8,-3.6]],
 "PEPIC": [[0.1,0,-0.1,-0.2,-0.3,-0.4,-0.5,-0.6,-0.7,-0.8,-0.9,-1],[-0.1,-0.3,-0.5,-0.7,-0.8,-0.9,-1,-1.1,-1.3,-1.5,-1.7,-1.9],[0.2,0.2,0.2,0.1,0,-0.1,-0.2,-0.3,-0.5,-0.7,-0.9,-1.1],[0,-0.1,-0.2,-0.3,-0.4,-0.5,-0.6,-0.7,-0.9,-1.1,-1.3,-1.5],[-0.2,-0.4,-0.6,-0.8,-1,-1.2,-1.4,-1.6,-1.9,-2.1,-2.3,-2.4]],
 "PROMET": [[1,2.1,3.1,4,4.7,5,5.2,5.1,4.9,4.7,4.4,3.9],[0.7,1.4,2,2.4,2.5,2.7,2.8,2.7,2.3,1.6,1,0.6],[0.8,1.7,2.6,3.2,3.7,4.2,4.6,4.7,4.9,4.4,3.3,1.9],[0.6,1.2,1.6,1.9,2,2.1,2.1,2,1.8,1.5,1.2,0.9],[0.6,1.2,1.8,2.4,2.4,2.3,2.2,1.9,1.7,1.5,1.3,1.4]],
}
NEU = {
 "CROVER": [[2.8,3.4,3.9,4.3,4.6,4.8,5,5.1,5.2,5.3,5.4,5.6],[2.4,2.6,2.8,2.9,3,3,3,3,2.8,2.5,2.2,2],[3,3.8,4.4,5,5.4,5.8,6.1,6.3,6.5,6.4,6.2,6],[3.6,5.5,7.4,8.9,10.2,11.1,11.8,12.5,13.3,13,12.5,11.8],[3.2,4.4,5.4,6.3,7,7.6,8,8.3,9.5,10.8,12.3,13.3]],
 "CYGMA1p74": [[2.1,2.2,2.2,2.2,2.2,2.1,2,2,1.8,1.4,1.6,1.8],[1.7,1.6,1.5,1.5,1.2,0.9,0.8,0.6,-0.2,-0.6,0.4,0],[2.3,2.5,2.7,2.8,2.9,3,3,3,2.9,2.8,2.6,2.5],[1.9,1.9,1.9,1.8,1.7,1.6,1.5,1.4,1.3,1.2,1.1,1],[1.3,0.8,0.4,0,-0.4,-0.8,-1.2,-1.6,-2.4,-2.4,-2,-1.9]],
 "EPIC-IIASA": [[2.6,3.1,3.5,3.9,4.2,4.5,4.7,4.9,5.1,5.2,5.3,5.4],[2.3,2.5,2.6,2.7,2.7,2.7,2.7,2.7,2.5,2.3,2.1,1.9],[2.8,3.5,4.2,4.8,5.3,5.7,6,6.2,6.4,6.6,6.7,6.8],[2.5,2.9,3.3,3.6,3.9,4.1,4.2,4.3,4.4,4.4,4.5,4.5],[2.2,2.3,2.4,2.4,2.4,2.4,2.3,2.2,2,1.7,1.3,0.9]],
 "ISAM": [[2.5,2.9,3.3,3.6,3.9,4.1,4.3,4.4,4.6,4.7,4.9,5.2],[2.2,2.3,2.4,2.5,2.5,2.5,2.5,2.4,2.2,2,1.7,1.4],[2.7,3.3,3.9,4.4,4.8,5.2,5.5,5.7,6,6.2,6.4,6.6],[2.4,2.7,3,3.2,3.4,3.5,3.6,3.7,3.8,3.9,4,4.1],[2.3,2.6,2.8,3,3.1,3.2,3.2,3.2,3.1,3,2.8,2.6]],
 "LDNDC": [[2.7,3.3,3.9,4.4,4.8,5,5.1,5.1,4.6,4.2,3.8,3.6],[2.4,2.8,3.1,3.4,3.6,3.7,3.7,3.6,3,2.6,1.6,0.8],[2.9,3.6,4.3,4.9,5.3,5.5,5.5,5.4,5.2,4.9,4.6,4.4],[2.6,3.1,3.6,4,4.3,4.5,4.6,4.6,4.4,4.2,4,3.8],[2.3,2.5,2.6,2.7,2.7,2.6,2.5,2.3,1.4,0.6,0,-0.4]],
 "LPJmL": [[2.8,3.5,4.1,4.6,5,5.3,5.5,5.6,5.7,5.6,5.4,5.2],[2.5,2.8,3.1,3.3,3.5,3.6,3.6,3.6,3.4,3.2,3,2.8],[3,3.8,4.6,5.3,5.9,6.3,6.6,6.8,6.8,6.6,6.4,6.2],[2.6,3.1,3.5,3.9,4.2,4.4,4.6,4.7,4.7,4.6,4.5,4.3],[2.2,2.4,2.5,2.5,2.5,2.4,2.3,2.2,1.5,1.1,0.8,0.6]],
 "pDSSAT": [[2.6,3.1,3.6,4,4.3,4.5,4.6,4.7,4.5,4.2,3.8,3.4],[2.3,2.5,2.7,2.8,2.9,2.9,2.9,2.8,2.5,2.2,2,1.8],[2.8,3.4,4,4.5,4.9,5.2,5.4,5.5,5.4,5.2,5,4.8],[2.5,2.9,3.3,3.6,3.8,4,4.1,4.1,4,3.8,3.6,3.4],[2.4,2.8,3.1,3.4,3.6,3.8,3.9,4,3.7,3.3,2.9,2.5]],
 "PEPIC": [[2.7,3.3,3.8,4.2,4.6,4.9,5.1,5.3,5.5,5.6,5.7,5.8],[2.4,2.7,3,3.2,3.4,3.5,3.6,3.6,3.5,3.4,3.3,3.2],[2.9,3.6,4.3,4.9,5.4,5.8,6.1,6.3,6.5,6.6,6.7,6.7],[2.6,3,3.4,3.8,4.1,4.3,4.5,4.6,4.7,4.7,4.7,4.7],[2.3,2.5,2.7,2.8,2.9,2.9,2.9,2.9,2.6,2.2,1.8,1.4]],
 "PROMET": [[3.8,5.9,7.9,9.8,10.9,11.8,12.2,12.4,9.8,8.6,8.6,9.2],[3,4,5,5.8,6.4,6.8,7,7,6.8,6.4,6.2,6],[3.6,5.5,7.4,9.2,10.4,11.2,11.5,11.5,12.6,11.3,9.5,9],[3.2,4.6,5.8,6.8,7.5,8,8.3,8.5,8.8,8.4,8.2,8],[3.1,4.3,5.5,6.6,7.2,7.7,8.1,8.6,7.2,6.6,7.2,7.8]],
}
OAS = {
 "CROVER": [[0.7,0.9,1,1.1,1.2,1.2,1.2,1.2,1.1,1,0.9,0.8],[0.4,0.3,0.2,0.1,0,-0.1,-0.2,-0.3,-0.5,-0.8,-1.1,-1.4],[0.8,1,1.2,1.3,1.4,1.5,1.5,1.5,1.4,1.3,1.3,1.2],[0.5,0.5,0.5,0.4,0.4,0.3,0.2,0.1,-0.4,-1.2,-2.5,-3.9],[-0.4,-0.7,-1.1,-1.5,-2,-2.4,-2.9,-3.4,-4.5,-5.4,-5.9,-6.2]],
 "CYGMA1p74": [[0.2,0.1,0,-0.1,-0.2,-0.3,-0.3,-0.4,-0.5,-0.6,-0.7,-0.8],[0.1,-0.1,-0.2,-0.3,-0.5,-0.6,-0.7,-0.8,-1,-1.2,-1.4,-1.5],[0.3,0.3,0.3,0.2,0.2,0.2,0.2,0.1,0.1,0,0,-0.1],[0.2,0.1,0,-0.1,-0.2,-0.3,-0.4,-0.5,-0.7,-0.8,-1,-1.1],[0,-0.2,-0.4,-0.6,-0.8,-1,-1.1,-1.3,-1.6,-1.9,-2.4,-2.7]],
 "EPIC-IIASA": [[0.5,0.6,0.7,0.8,0.9,0.9,1,1,1,1,1.1,1.1],[0.3,0.3,0.2,0.2,0.1,0.1,0,0,-0.1,-0.2,-0.3,-0.4],[0.6,0.8,1,1.1,1.2,1.3,1.4,1.5,1.6,1.6,1.7,1.7],[0.4,0.4,0.5,0.5,0.5,0.5,0.5,0.5,0.5,0.5,0.5,0.5],[0.1,0,-0.2,-0.3,-0.5,-0.6,-0.7,-0.8,-1,-1.1,-1.2,-1.3]],
 "ISAM": [[0.3,0.3,0.4,0.4,0.4,0.5,0.5,0.5,0.5,0.5,0.5,0.5],[0.1,0,-0.1,-0.2,-0.3,-0.4,-0.5,-0.6,-0.8,-1,-1.2,-1.3],[0.4,0.5,0.6,0.7,0.8,0.8,0.9,0.9,0.9,0.9,0.9,0.9],[0.2,0.2,0.2,0.2,0.1,0.1,0.1,0,0,-0.1,-0.1,-0.2],[0,-0.2,-0.3,-0.5,-0.7,-0.8,-1,-1.1,-1.4,-1.6,-1.8,-1.9]],
 "LDNDC": [[0.6,0.8,1,1.2,1.3,1.4,1.5,1.5,1.6,1.6,1.6,1.6],[0.4,0.5,0.6,0.7,0.7,0.8,0.8,0.8,0.7,0.6,0.5,0.4],[0.7,1,1.2,1.4,1.6,1.7,1.8,1.9,1.9,1.9,1.9,1.8],[0.5,0.6,0.7,0.8,0.9,1,1,1.1,1.1,1.1,1.2,1.2],[0.2,0.1,0,-0.2,-0.3,-0.5,-0.6,-0.7,-0.9,-1,-1.1,-1.2]],
 "LPJmL": [[0.5,0.6,0.7,0.8,0.9,1,1,1,1,0.9,0.9,0.8],[0.3,0.3,0.3,0.3,0.3,0.3,0.3,0.3,0.2,0.1,0,-0.1],[0.6,0.8,0.9,1,1.1,1.2,1.2,1.2,1.2,1.1,1.1,1],[0.4,0.5,0.5,0.6,0.6,0.6,0.6,0.6,0.5,0.5,0.4,0.4],[0.1,0,-0.1,-0.2,-0.3,-0.4,-0.5,-0.6,-0.8,-1,-1.2,-1.3]],
 "pDSSAT": [[0.2,0.1,0.1,0,0,-0.1,-0.1,-0.2,-0.3,-0.4,-0.4,-0.5],[0,-0.2,-0.4,-0.5,-0.7,-0.8,-1,-1.1,-1.4,-1.7,-1.9,-2],[0.3,0.3,0.3,0.3,0.3,0.3,0.3,0.3,0.2,0.2,0.1,0.1],[0.1,0,-0.1,-0.2,-0.3,-0.4,-0.5,-0.6,-0.8,-1,-1.2,-1.3],[-0.1,-0.3,-0.5,-0.7,-0.9,-1.1,-1.3,-1.5,-1.7,-2,-2.2,-2.3]],
 "PEPIC": [[0.4,0.4,0.4,0.4,0.4,0.4,0.4,0.4,0.4,0.4,0.4,0.4],[0.2,0.1,0,-0.1,-0.2,-0.3,-0.4,-0.5,-0.7,-0.9,-1,-1.1],[0.5,0.6,0.6,0.7,0.7,0.7,0.7,0.7,0.6,0.6,0.5,0.5],[0.3,0.3,0.3,0.3,0.3,0.2,0.2,0.2,0.1,0,-0.1,-0.2],[0,-0.1,-0.3,-0.4,-0.5,-0.6,-0.7,-0.8,-1,-1.2,-1.3,-1.4]],
 "PROMET": [[1.1,1.6,2.1,2.5,2.8,3,3.1,3.1,3,2.8,2.7,2.6],[0.9,1.2,1.5,1.8,2,2.1,2.2,2.2,2.1,1.9,1.7,1.5],[1.2,1.9,2.5,2.9,3.2,3.3,3.4,3.3,3.2,3.1,3.1,3.3],[1,1.4,1.8,2.1,2.4,2.5,2.6,2.6,2.5,2.4,2.2,2],[0.8,1.1,1.3,1.5,1.6,1.6,1.6,1.5,1.2,1,0.8,0.6]],
}
REF = {
 "CROVER": [[1.3,1.6,1.9,2.1,2.3,2.5,2.6,2.7,2.6,2.4,2.2,2],[1.1,1.2,1.3,1.3,1.4,1.4,1.4,1.4,1.3,1.1,0.9,0.7],[1.5,2,2.4,2.8,3.1,3.4,3.6,3.8,3.9,3.8,3.6,3.4],[1.2,1.4,1.5,1.6,1.7,1.7,1.7,1.7,1.5,1.2,1,0.8],[0.5,0,-0.5,-1,-1.5,-1.9,-2.3,-2.7,-1.5,-3.1,-3.4,-3.9]],
 "CYGMA1p74": [[1.2,1.5,1.8,2,2.2,2.3,2.4,2.4,2.3,2.1,1.9,1.7],[1,1.1,1.2,1.3,1.3,1.3,1.3,1.2,1,0.7,0.4,0.2],[1.3,1.7,2,2.3,2.5,2.7,2.8,2.8,2.7,2.6,2.4,2.2],[1.1,1.3,1.5,1.6,1.7,1.7,1.7,1.7,1.5,1.3,1.1,0.9],[0.7,0.5,0.3,0.1,-0.1,-0.3,-0.5,-0.7,-0.9,-1,-0.6,-0.7]],
 "EPIC-IIASA": [[1.4,1.9,2.4,2.9,3.3,3.6,3.9,4.1,4.3,4.4,4.3,4.1],[1.2,1.5,1.8,2,2.2,2.4,2.5,2.6,2.6,2.5,2.3,2.1],[1.6,2.2,2.8,3.3,3.8,4.2,4.5,4.8,5,5.2,4.4,3.6],[1.3,1.7,2,2.3,2.6,2.8,3,3.1,3.2,3.2,3.1,3],[0.6,0.3,0,-0.3,-0.6,-0.9,-1.2,-1.4,-1.8,-2,-2.1,-2.2]],
 "ISAM": [[1.3,1.7,2,2.3,2.5,2.7,2.8,2.9,2.9,2.8,2.7,2.6],[1.1,1.3,1.4,1.5,1.6,1.6,1.6,1.6,1.4,1.2,1,0.8],[1.5,2,2.5,2.9,3.3,3.6,3.8,4,4.2,4.3,4.3,4.5],[1.2,1.5,1.7,1.9,2.1,2.2,2.3,2.4,2.4,2.3,2.2,2.1],[0.6,0.3,0,-0.4,-0.7,-1,-1.3,-1.6,-2,-2.3,-2.4,-2.6]],
 "LDNDC": [[1.4,1.8,2.2,2.5,2.8,3,3.1,3.2,3,2.7,2.2,1.4],[1.2,1.5,1.8,2,2.2,2.3,2.4,2.4,2.2,1.8,1.2,0.6],[1.5,2,2.4,2.8,3.1,3.3,3.4,3.5,3.4,3.1,2.6,2],[1.3,1.6,1.9,2.2,2.4,2.5,2.6,2.6,2.4,2.1,1.6,1],[1,1.1,1.2,1.3,1.3,1.3,1.3,1.3,1.1,0.7,0.3,0]],
 "LPJmL": [[1.2,1.4,1.6,1.8,1.9,2,2.1,2.1,2,1.8,1.6,1.4],[1,1,1,1,1,0.9,0.9,0.8,0.6,0.3,0,-0.3],[1.3,1.6,1.9,2.2,2.4,2.6,2.7,2.8,2.7,2.5,2.2,1.8],[1.1,1.2,1.3,1.4,1.5,1.5,1.5,1.5,1.3,1.1,0.8,0.5],[0.6,0.2,-0.2,-0.5,-0.8,-1.1,-1.4,-1.7,-2.2,-2.7,-3.3,-3.5]],
 "pDSSAT": [[1.3,1.7,2.1,2.5,2.8,3.1,3.3,3.5,3.6,3.5,3.4,3.2],[1.1,1.3,1.5,1.7,1.9,2,2.1,2.2,2.2,2.1,2,1.8],[1.5,2,2.5,3,3.4,3.8,4.1,4.3,4.5,4.6,4.6,4.7],[1.2,1.5,1.8,2.1,2.3,2.5,2.6,2.7,2.8,2.8,2.7,2.6],[0.8,0.6,0.4,0.2,0,-0.2,-0.4,-0.6,-0.9,-1.2,-1.5,-1.8]],
 "PEPIC": [[1.5,2.1,2.7,3.2,3.6,4,4.3,4.5,4.7,4.8,4.5,4],[1.3,1.7,2,2.3,2.5,2.7,2.8,2.9,2.9,2.8,2.6,2.4],[1.6,2.3,3,3.6,4.1,4.5,4.8,5,5,5.3,4.5,3.7],[1.4,1.9,2.3,2.7,3,3.3,3.5,3.6,3.7,3.7,3.5,3.3],[0.9,0.8,0.7,0.6,0.5,0.4,0.3,0.2,0,-0.2,-0.4,-0.6]],
 "PROMET": [[1.8,2.9,3.9,5,5.7,6.4,6.8,7,5.5,3.7,2.1,1.5],[1.6,2.5,3.4,4.2,4.9,5.5,6,6.4,7,8,9.3,10.8],[1.8,2.8,3.9,4.5,5.1,5.8,6.4,6.7,7.8,8.6,9,8.3],[1.5,2.2,2.8,3.4,3.9,4.3,4.6,4.8,4.5,3.9,3,2.2],[1.2,1.5,1.7,1.8,1.8,1.7,1.5,1.2,0.5,0,-0.5,-1]],
}
SSA = {
 "CROVER": [[0.2,0.3,0.4,0.4,0.5,0.5,0.5,0.5,0.4,0.3,0.2,0.1],[0,-0.1,-0.2,-0.3,-0.4,-0.4,-0.5,-0.5,-0.6,-0.6,-0.7,-0.8],[0.3,0.5,0.6,0.7,0.8,0.8,0.8,0.8,0.7,0.6,0.5,0.4],[0.1,0.1,0.1,0.1,0,0,0,0,-0.1,-0.2,-0.3,-0.4],[-0.2,-0.4,-0.6,-0.8,-1,-1.2,-1.4,-1.6,-1.9,-2.1,-2.3,-2.5]],
 "CYGMA1p74": [[-0.1,-0.3,-0.4,-0.5,-0.6,-0.7,-0.7,-0.8,-0.8,-0.9,-0.9,-1],[-0.3,-0.8,-1.2,-1.6,-1.8,-2,-2.1,-2.1,-2.2,-2.3,-2.4,-2.5],[0,-0.1,-0.1,-0.2,-0.2,-0.3,-0.3,-0.3,-0.3,-0.3,-0.3,-0.3],[-0.2,-0.5,-0.7,-0.9,-1.1,-1.2,-1.3,-1.4,-1.5,-1.6,-1.7,-1.8],[-0.5,-1.1,-1.6,-2.1,-2.5,-2.9,-3.5,-3.6,-3.5,-3.5,-3.5,-3.6]],
 "EPIC-IIASA": [[0.1,0.1,0.1,0.2,0.2,0.2,0.2,0.2,0.2,0.2,0.2,0.3],[-0.1,-0.2,-0.3,-0.4,-0.5,-0.6,-0.6,-0.7,-0.8,-0.8,-0.9,-1],[0.2,0.3,0.4,0.5,0.6,0.6,0.7,0.7,0.7,0.8,0.8,0.8],[0,0,0,-0.1,-0.1,-0.1,-0.2,-0.2,-0.2,-0.3,-0.3,-0.3],[-0.3,-0.6,-0.9,-1.2,-1.4,-1.6,-1.8,-2,-2.2,-2.4,-2.6,-2.7]],
 "ISAM": [[-0.1,-0.3,-0.5,-0.6,-0.7,-0.8,-0.9,-1,-1.1,-1.1,-1.2,-1.2],[-0.3,-0.6,-0.9,-1.1,-1.3,-1.5,-1.6,-1.7,-1.8,-1.8,-1.8,-1.8],[0,-0.1,-0.2,-0.3,-0.4,-0.5,-0.5,-0.6,-0.6,-0.6,-0.7,-0.7],[-0.2,-0.4,-0.6,-0.8,-1,-1.1,-1.2,-1.3,-1.4,-1.5,-1.6,-1.7],[-0.4,-0.9,-1.3,-1.7,-2.1,-2.4,-2.7,-3,-3.3,-3.5,-3.6,-3.6]],
 "LDNDC": [[0.4,0.8,1.1,1.4,1.6,1.8,1.9,1.9,1.8,1.6,1.3,1.1],[0.2,0.4,0.6,0.7,0.8,0.9,0.9,0.9,0.8,0.6,0.4,0.2],[0.4,0.7,1,1.2,1.4,1.5,1.6,1.6,1.5,1.3,1.1,0.9],[0.3,0.5,0.7,0.8,0.9,1,1,1,0.8,0.5,0.2,0],[-0.1,-0.3,-0.4,-0.6,-0.7,-0.8,-0.9,-1,-1.1,-1.2,-1.3,-1.4]],
 "LPJmL": [[0.1,0.2,0.3,0.3,0.3,0.3,0.3,0.3,0.3,0.2,0.2,0.1],[-0.1,-0.2,-0.3,-0.4,-0.5,-0.6,-0.7,-0.7,-0.8,-0.8,-0.9,-0.9],[0.2,0.3,0.4,0.5,0.5,0.5,0.5,0.5,0.5,0.5,0.5,0.5],[0,0,-0.1,-0.1,-0.2,-0.2,-0.3,-0.3,-0.3,-0.4,-0.4,-0.4],[-0.2,-0.4,-0.5,-0.7,-0.8,-0.9,-1,-1.1,-1.2,-1.3,-1.4,-1.5]],
 "pDSSAT": [[-0.3,-0.6,-0.9,-1.1,-1.3,-1.4,-1.5,-1.6,-1.6,-1.6,-1.7,-1.7],[-0.4,-0.9,-1.3,-1.7,-2,-2.2,-2.4,-2.5,-2.6,-2.6,-2.7,-2.7],[-0.2,-0.5,-0.7,-0.9,-1,-1.1,-1.2,-1.2,-1.3,-1.3,-1.4,-1.4],[-0.3,-0.7,-1,-1.3,-1.6,-1.8,-2,-2.1,-2.3,-2.5,-2.9,-3.1],[-0.6,-1.5,-2,-2.5,-2.9,-3.3,-3.7,-4,-4.3,-4.3,-4,-3.8]],
 "PEPIC": [[0.7,1.4,1.9,2.3,2.6,2.8,2.9,2.8,2.4,2,2.4,3.2],[0.6,1.2,1.7,2.1,2.4,2.6,2.7,2.6,2.4,2.2,2.3,2.8],[0.8,1.5,2,2.4,2.7,3.1,3.2,3,2.7,2.4,2.4,2.5],[0.5,1,1.4,1.7,1.9,2.1,2.2,2.1,1.8,1.5,1.3,1.2],[0.2,0.3,0.3,0.3,0.2,0.1,0,-0.1,-0.4,-0.8,-1.6,-2.4]],
 "PROMET": [[0.5,1,1.5,2,2.3,2.6,2.7,2.8,2.7,2.4,2.2,1.9],[0.5,0.9,1.1,1.2,1.3,1.3,1.3,1.3,1.1,1,0.9,0.8],[0.6,1.1,1.6,2,2.3,2.5,2.6,2.4,2,1.6,1.4,1.2],[0.4,0.7,0.9,1.1,1.2,1.3,1.3,1.3,1.2,1.1,1,1],[0.2,0.3,0.4,0.4,0.4,0.3,0.3,0.2,0.1,0,-0.1,-0.2]],
}
USA = {
 "CROVER": [[1,2,2.8,3.5,4,4.4,4.6,4.8,4.6,4.2,3.8,3.5],[0,-0.5,-1,-1.5,-2,-2.4,-2.8,-3.2,-3.8,-4.5,-5.5,-6.5],[1.2,2.2,3.1,3.9,4.5,5,5.3,5.5,5.3,4.8,4.4,4],[0.4,0.6,0.8,0.9,1,1,1,1,0.6,0,-1,-2],[-0.8,-1.8,-2.8,-3.8,-4.8,-5.6,-6.4,-7.2,-8.5,-10,-12,-13.5]],
 "CYGMA1p74": [[0.2,0,-0.3,-0.6,-0.9,-1.2,-1.5,-1.8,-2.5,-3.2,-4.2,-5.2],[-0.6,-1.5,-2.4,-3.2,-3.9,-4.5,-5,-5.4,-6,-6.2,-7.5,-9.5],[0.4,0.5,0.5,0.4,0.3,0.1,-0.1,-0.3,-0.8,-1.5,-2.5,-3.5],[-0.2,-0.7,-1.2,-1.7,-2.2,-2.6,-3,-3.3,-4,-5.2,-6.5,-8],[-5,-10,-14.5,-18,-20.5,-22,-23,-24,-26,-29,-32,-33.5]],
 "EPIC-IIASA": [[0.8,1.5,2.2,2.8,3.2,3.6,3.9,4.1,4.2,4.3,4.4,4.5],[-0.3,-1,-1.7,-2.4,-3,-3.6,-4.1,-4.6,-5.4,-6,-6.8,-7.5],[1,1.9,2.7,3.4,4,4.4,4.8,5,5.2,5.3,5.4,5.5],[0.3,0.5,0.6,0.6,0.6,0.5,0.4,0.3,0,-0.5,-1.2,-2],[-0.8,-2,-3.2,-4.4,-5.5,-6.5,-7.4,-8.2,-10,-12,-13.5,-16]],
 "ISAM": [[0.4,0.6,0.7,0.8,0.8,0.8,0.7,0.6,0.3,-0.2,-0.8,-1.4],[-0.5,-1.3,-2.1,-2.9,-3.6,-4.2,-4.7,-5.2,-6,-6.6,-7.5,-8.5],[0.6,1,1.3,1.6,1.8,1.9,2,2,1.8,1.4,0.9,0.4],[-0.1,-0.5,-0.9,-1.3,-1.7,-2,-2.3,-2.6,-3.2,-3.8,-4.6,-5.5],[-0.7,-1.6,-2.5,-3.4,-4.2,-5,-5.7,-6.3,-6.8,-7.5,-9,-11]],
 "LDNDC": [[0.5,0.8,1.1,1.4,1.7,2,2.3,2.6,3,2.7,2.3,2],[0,-0.3,-0.6,-0.9,-1.2,-1.5,-1.8,-2,-2.5,-3,-3.6,-4.2],[0.7,1.2,1.7,2.1,2.5,2.8,3,3.1,3.5,2.5,2.2,1.8],[0.2,0.3,0.4,0.4,0.4,0.4,0.4,0.4,0.2,-0.2,-0.8,-1.5],[-0.4,-1,-1.6,-2.2,-2.8,-3.3,-3.8,-4.2,-4.8,-5.6,-6.5,-7.5]],
 "LPJmL": [[0.6,1,1.3,1.6,1.8,2,2.1,2.2,2,1.6,1.2,0.8],[-0.4,-1.1,-1.8,-2.5,-3.1,-3.7,-4.2,-4.7,-5.5,-6,-7,-8],[0.8,1.4,1.9,2.4,2.8,3.1,3.3,3.5,3.4,3,2.6,2.2],[0,-0.3,-0.6,-0.9,-1.2,-1.5,-1.8,-2,-2.6,-3.4,-4.3,-5.2],[-0.6,-1.5,-2.4,-3.3,-4.1,-4.9,-5.6,-6.2,-7,-5,-8.5,-10]],
 "pDSSAT": [[0.3,0.3,0.2,0.1,0,-0.2,-0.4,-0.6,-1,-1.6,-2.4,-3.2],[-0.7,-1.7,-2.7,-3.6,-4.4,-5.2,-5.9,-6.5,-7.5,-8,-9,-10],[0.5,0.7,0.8,0.9,0.9,0.9,0.8,0.7,0.4,0,-0.6,-1.2],[-0.3,-0.9,-1.5,-2.1,-2.6,-3.1,-3.6,-4,-4.8,-5.6,-6.5,-7.5],[-2,-4,-6.5,-8.5,-10,-11.5,-12.5,-13.5,-15.5,-18,-20.5,-22.5]],
 "PEPIC": [[0.9,1.7,2.5,3.2,3.8,4.3,4.7,5,5.2,5.3,5.5,5.8],[-0.4,-1.2,-2,-2.8,-3.5,-4.2,-4.8,-5.4,-6.3,-7,-7.8,-8.8],[1.1,2.1,3,3.8,4.5,5.1,5.6,6,6.3,6.5,6.6,6.8],[0.3,0.4,0.5,0.5,0.5,0.4,0.3,0.2,-0.2,-0.8,-1.6,-2.5],[-0.9,-2.1,-3.3,-4.5,-5.6,-6.6,-7.5,-8.3,-8.5,-10,-12.5,-15]],
 "PROMET": [[1.6,3,4.5,6,7.5,8,8.7,9.2,8.5,7,5.5,4.5],[1,2,3,3.8,4.5,5.1,5.6,6,5.8,4.8,3.5,2.2],[1.4,2.8,4.2,5.5,6.6,7.5,8.2,8.8,8.4,7.4,6.2,5.2],[0.8,1.6,2.3,3,3.6,4.1,4.5,4.8,4.5,3.6,2.4,1.2],[0.4,0.6,0.8,0.9,1,1,1,0.9,0.2,-1.5,-3.5,-6]],
}
DATA = {"ANZ": ANZ, "CAN": CAN, "CHA": CHA, "EUR": EUR, "IND": IND, "JPN": JPN, "LAM": LAM,
        "MEA": MEA, "NEU": NEU, "OAS": OAS, "REF": REF, "SSA": SSA, "USA": USA}

Y_TICKS = {"ANZ": [-5, 0, 5], "CAN": [-15, -10, -5, 0, 5, 10, 15], "CHA": [-10, -5, 0, 5],
           "EUR": [-10, -5, 0, 5, 10], "IND": [-2.5, 0, 2.5, 5], "JPN": [-2, -1, 0, 1, 2],
           "LAM": [-10, -5, 0, 5], "MEA": [-2.5, 0, 2.5, 5], "NEU": [0, 5, 10],
           "OAS": [-6, -4, -2, 0, 2], "REF": [0, 5, 10], "SSA": [-4, -2, 0, 2],
           "USA": [-30, -20, -10, 0, 10]}
Y_DECIMALS = {"IND": 1, "MEA": 1}
X_TICKS = [2020, 2040, 2060, 2080, 2100]

# ---------------- styling ----------------
W, H = 2423, 1184
FONT = "DejaVu Sans, Liberation Sans, Arial, sans-serif"
COLORS = {"CROVER": "#CC6677", "CYGMA1p74": "#332288", "EPIC-IIASA": "#DDCC77", "ISAM": "#117733",
          "LDNDC": "#88CCEE", "LPJmL": "#882255", "pDSSAT": "#44AA99", "PEPIC": "#999933",
          "PROMET": "#AA4499"}
DASH = {"GFDL-ESM4": "solid", "IPSL-CM6A-LR": "dash", "MPI-ESM1-2-HR": "longdash",
        "MRI-ESM2-0": "solid", "UKESM1-0-LL": "dot"}
SYMBOL = {"GFDL-ESM4": "circle", "IPSL-CM6A-LR": "triangle-up", "MPI-ESM1-2-HR": "square",
          "MRI-ESM2-0": "cross-thin-open", "UKESM1-0-LL": "square-x-open"}
MSIZE = {"GFDL-ESM4": 10, "IPSL-CM6A-LR": 11, "MPI-ESM1-2-HR": 10, "MRI-ESM2-0": 13, "UKESM1-0-LL": 11}

COL_LEFT = [292, 728, 1164, 1600]
PANEL_W = 338
ROW_TOP = [51, 328, 605, 882]
STRIP_H = 36
PLOT_H = 179
X_RANGE = [2010.75, 2104.25]
Y_RANGE = {"ANZ": [-5.8, 8.4], "CAN": [-15.7, 15.9], "CHA": [-12.0, 8.65], "EUR": [-11.1, 11.2],
           "IND": [-4.3, 7.35], "JPN": [-2.75, 2.4], "LAM": [-13.7, 6.5], "MEA": [-4.5, 5.6],
           "NEU": [-3.1, 14.3], "OAS": [-6.6, 3.9], "REF": [-4.6, 11.5], "SSA": [-4.9, 3.7],
           "USA": [-35.3, 12.1]}

fig = go.Figure()
layout = {}
shapes = []
annotations = []
problems = []

for k, reg in enumerate(REGIONS):
    r, c = divmod(k, 4)
    left = COL_LEFT[c]
    top = ROW_TOP[r]
    ptop = top + STRIP_H
    pbot = ptop + PLOT_H
    sfx = "" if k == 0 else str(k + 1)
    xa, ya = "x" + sfx, "y" + sfx

    for g in GGCMS:
        for j, gcm in enumerate(GCMS):
            vals = DATA[reg][g][j]
            if len(vals) != 12:
                problems.append(f"{reg} {g} {gcm}: {len(vals)}")
            y = START[reg] + list(vals)
            n = min(len(y), len(YEARS))
            fig.add_trace(go.Scatter(
                x=YEARS[:n], y=y[:n], mode="lines+markers", xaxis=xa, yaxis=ya,
                line=dict(color=COLORS[g], width=1.3, dash=DASH[gcm]),
                marker=dict(symbol=SYMBOL[gcm], size=MSIZE[gcm], color=COLORS[g],
                            line=dict(color=COLORS[g], width=1.6)),
                showlegend=False, hoverinfo="skip"))

    ticks = Y_TICKS[reg]
    dec = Y_DECIMALS.get(reg, 0)
    labels = [f"{t:.{dec}f}" for t in ticks]
    step = ticks[1] - ticks[0]
    lo, hi = Y_RANGE[reg]
    yminor = [t + step / 2 for t in [ticks[0] - step] + ticks if lo < t + step / 2 < hi]

    layout["xaxis" + sfx] = dict(
        domain=[left / W, (left + PANEL_W) / W], anchor=ya, range=X_RANGE,
        tickvals=X_TICKS, ticktext=[str(t) for t in X_TICKS], tickangle=-45,
        tickfont=dict(size=20, color="#4D4D4D", family=FONT),
        ticks="outside", ticklen=6, tickwidth=1.3, tickcolor="#333333",
        showgrid=True, gridcolor="#EBEBEB", gridwidth=1.3,
        minor=dict(tickvals=[2030, 2050, 2070, 2090], showgrid=True, gridcolor="#F3F3F3", gridwidth=0.8, ticks=""),
        showline=True, mirror=True, linecolor="#333333", linewidth=1.3, zeroline=False)
    layout["yaxis" + sfx] = dict(
        domain=[1 - pbot / H, 1 - ptop / H], anchor=xa, range=Y_RANGE[reg],
        tickvals=ticks, ticktext=labels,
        tickfont=dict(size=21, color="#4D4D4D", family=FONT),
        ticks="outside", ticklen=6, tickwidth=1.3, tickcolor="#333333",
        showgrid=True, gridcolor="#EBEBEB", gridwidth=1.3,
        minor=dict(tickvals=yminor, showgrid=True, gridcolor="#F3F3F3", gridwidth=0.8, ticks=""),
        showline=True, mirror=True, linecolor="#333333", linewidth=1.3, zeroline=False)

    shapes.append(dict(type="rect", xref="paper", yref="paper",
                       x0=left / W, x1=(left + PANEL_W) / W, y0=1 - ptop / H, y1=1 - top / H,
                       fillcolor="#D9D9D9", line=dict(color="#333333", width=1.3), layer="above"))
    annotations.append(dict(text=reg, xref="paper", yref="paper", x=(left + PANEL_W / 2) / W,
                            y=1 - (top + STRIP_H / 2) / H, xanchor="center", yanchor="middle",
                            showarrow=False, font=dict(size=24, color="#1A1A1A", family=FONT)))

# legend entries
for i, g in enumerate(GGCMS):
    fig.add_trace(go.Scatter(
        x=[None], y=[None], mode="lines+markers", name=g, legendgroup="GGCM",
        legendgrouptitle=dict(text="GGCM", font=dict(size=25, color="black", family=FONT)) if i == 0 else None,
        line=dict(color=COLORS[g], width=1.5),
        marker=dict(symbol="circle", size=10, color=COLORS[g])))
for i, gcm in enumerate(GCMS):
    fig.add_trace(go.Scatter(
        x=[None], y=[None], mode="lines+markers", name=gcm, legendgroup="GCM",
        legendgrouptitle=dict(text="GCM", font=dict(size=25, color="black", family=FONT)) if i == 0 else None,
        line=dict(color="black", width=1.5, dash=DASH[gcm]),
        marker=dict(symbol=SYMBOL[gcm], size=MSIZE[gcm], color="black", line=dict(color="black", width=1.6))))

annotations.append(dict(text="RCP2.6", xref="paper", yref="paper", x=1118 / W, y=1 - 22 / H,
                        xanchor="center", yanchor="middle", showarrow=False,
                        font=dict(size=30, color="black", family=FONT)))
annotations.append(dict(text="Year", xref="paper", yref="paper", x=1150 / W, y=1 - 1165 / H,
                        xanchor="center", yanchor="middle", showarrow=False,
                        font=dict(size=28, color="black", family=FONT)))
annotations.append(dict(text="Change in average regional crop yields<br>compared with 2015<br>(%)",
                        xref="paper", yref="paper", x=77 / W, y=1 - 650 / H, textangle=-90,
                        xanchor="center", yanchor="middle", showarrow=False,
                        font=dict(size=27, color="black", family=FONT)))

fig.update_layout(
    width=W, height=H, autosize=False,
    margin=dict(l=0, r=0, t=0, b=0),
    paper_bgcolor="white", plot_bgcolor="white",
    font=dict(family=FONT, color="black"),
    shapes=shapes, annotations=annotations,
    legend=dict(x=1988 / W, y=1 - 328 / H, xanchor="left", yanchor="top",
                font=dict(size=20, color="black", family=FONT),
                tracegroupgap=26, itemwidth=55, bgcolor="rgba(0,0,0,0)"),
    **layout)

fig.write_html("out.html")

if problems:
    raise SystemExit("length problems: " + "; ".join(problems))
